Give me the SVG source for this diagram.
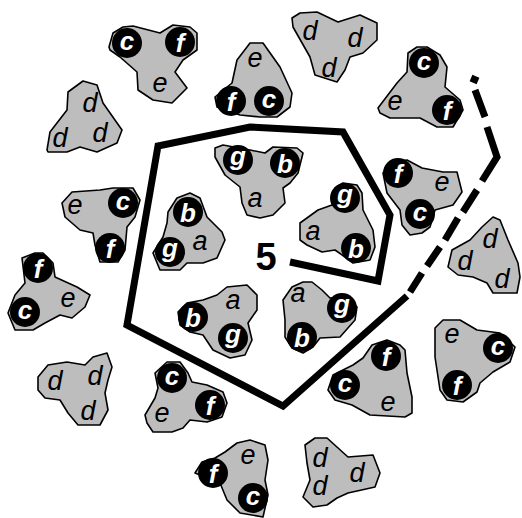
<svg xmlns="http://www.w3.org/2000/svg" width="522" height="518" viewBox="0 0 522 518">
<style>
.blob{fill:#bdbdbd;stroke:#000;stroke-width:1.6;stroke-linejoin:round}
.dot{fill:#000}
.w{fill:#fff;font-family:"Liberation Sans",Arial,sans-serif;font-style:italic;font-weight:bold;font-size:26px;text-anchor:middle}
.k{fill:#000;font-family:"Liberation Sans",Arial,sans-serif;font-style:italic;font-size:27px;text-anchor:middle}
.line{fill:none;stroke:#000;stroke-width:7;stroke-linejoin:miter}
.dash{fill:none;stroke:#000;stroke-width:7}
</style>
<g id="boundary">
<path class="line" d="M290,262 L378,281 L390,215 L343,132 L250,127 L158,146 L127,325 L283,406 L407,296"/>
<path class="dash" d="M410,292 L422,273 M427,266 L440,247 M445,240 L458,218 M463,212 L477,190 M482,181 L497,157 L487,127 M485,117 L475,90 M478,81 L471,78"/>
<text x="266" y="270" style="font-family:'Liberation Sans',Arial,sans-serif;font-size:38px;font-weight:bold;text-anchor:middle">5</text>
</g>
<g id="b1"><polygon class="blob" points="109,47 113,33 123,27 133,26 160,33 173,25 190,27 197,33 197,50 183,60 175,72 187,88 172,103 153,100 138,90 137,72 120,57 110,50"/>
<circle class="dot" cx="127" cy="43" r="15"/><circle class="dot" cx="180" cy="42" r="15"/>
<text class="w" x="127" y="50">c</text><text class="w" x="180" y="52">f</text><text class="k" x="160" y="92">e</text></g>
<g id="b2"><polygon class="blob" points="250,43 263,43 280,67 292,93 290,107 277,117 260,117 240,115 217,107 215,97 232,83 237,60 247,47"/>
<circle class="dot" cx="231" cy="101" r="15"/><circle class="dot" cx="269" cy="101" r="15"/>
<text class="w" x="231" y="111">f</text><text class="w" x="269" y="108">c</text><text class="k" x="255" y="67">e</text></g>
<g id="b3"><polygon class="blob" points="292,18 300,13 317,12 338,22 360,15 377,23 377,40 363,53 350,57 345,70 337,82 315,75 310,57 293,27"/>
<text class="k" x="310" y="40">d</text><text class="k" x="355" y="47">d</text><text class="k" x="329" y="77">d</text></g>
<g id="b4"><polygon class="blob" points="378,108 397,83 407,72 408,53 417,47 427,47 440,55 447,67 445,87 460,100 463,110 453,127 437,127 420,118 390,118 380,113"/>
<circle class="dot" cx="424" cy="63" r="15"/><circle class="dot" cx="447" cy="110" r="15"/>
<text class="w" x="424" y="70">c</text><text class="w" x="447" y="120">f</text><text class="k" x="395" y="110">e</text></g>
<g id="b5"><polygon class="blob" points="48,152 47,150 50,132 67,110 68,92 83,81 97,85 103,103 122,130 117,143 97,152 80,147 67,152"/>
<text class="k" x="90" y="112">d</text><text class="k" x="60" y="147">d</text><text class="k" x="100" y="142">d</text></g>
<g id="b6"><polygon class="blob" points="62,203 72,192 100,190 113,188 133,188 140,200 135,217 127,227 125,250 118,262 100,262 95,245 93,233 80,230 65,217"/>
<circle class="dot" cx="123" cy="203" r="15"/><circle class="dot" cx="110" cy="248" r="15"/>
<text class="w" x="123" y="210">c</text><text class="w" x="110" y="258">f</text><text class="k" x="75" y="214">e</text></g>
<g id="b7"><polygon class="blob" points="215,148 223,145 250,150 265,153 273,147 297,148 303,153 298,173 290,183 283,188 285,203 273,215 260,218 247,215 242,203 240,187 225,175 215,157"/>
<circle class="dot" cx="238" cy="160" r="15"/><circle class="dot" cx="285" cy="163" r="15"/>
<text class="w" x="238" y="165">g</text><text class="w" x="285" y="173">b</text><text class="k" x="255" y="207">a</text></g>
<g id="b8"><polygon class="blob" points="167,223 168,212 177,198 190,193 200,198 207,217 222,232 225,240 217,258 203,263 187,263 180,270 160,270 153,253 163,237"/>
<circle class="dot" cx="188" cy="212" r="15"/><circle class="dot" cx="170" cy="252" r="15"/>
<text class="w" x="188" y="222">b</text><text class="w" x="170" y="257">g</text><text class="k" x="200" y="250">a</text></g>
<g id="b9"><polygon class="blob" points="300,223 318,210 332,205 335,188 343,183 357,185 362,193 363,210 373,230 375,247 370,260 353,263 345,257 335,250 322,252 307,245 300,240"/>
<circle class="dot" cx="345" cy="198" r="15"/><circle class="dot" cx="356" cy="248" r="15"/>
<text class="w" x="345" y="203">g</text><text class="w" x="356" y="258">b</text><text class="k" x="313" y="240">a</text></g>
<g id="b10"><polygon class="blob" points="383,173 392,162 407,160 422,168 443,172 457,172 462,192 453,205 435,210 430,227 422,233 410,235 402,225 400,210 387,193"/>
<circle class="dot" cx="398" cy="173" r="15"/><circle class="dot" cx="420" cy="214" r="15"/>
<text class="w" x="398" y="183">f</text><text class="w" x="420" y="221">c</text><text class="k" x="442" y="191">e</text></g>
<g id="b11"><polygon class="blob" points="448,267 452,250 470,240 482,227 493,217 500,220 508,240 518,263 520,277 517,293 493,293 487,283 473,277 458,275"/>
<text class="k" x="490" y="248">d</text><text class="k" x="465" y="270">d</text><text class="k" x="502" y="288">d</text></g>
<g id="b12"><polygon class="blob" points="22,258 35,253 43,253 53,263 55,277 77,287 90,295 85,307 72,318 60,315 45,323 33,330 15,330 8,313 15,295 25,283"/>
<circle class="dot" cx="38" cy="268" r="15"/><circle class="dot" cx="25" cy="312" r="15"/>
<text class="w" x="38" y="278">f</text><text class="w" x="25" y="319">c</text><text class="k" x="68" y="307">e</text></g>
<g id="b13"><polygon class="blob" points="178,312 187,303 203,300 217,295 227,287 247,285 257,295 257,310 248,323 252,340 245,355 230,358 213,350 203,335 190,332 180,325"/>
<circle class="dot" cx="193" cy="317" r="15"/><circle class="dot" cx="233" cy="338" r="15"/>
<text class="w" x="193" y="327">b</text><text class="w" x="233" y="343">g</text><text class="k" x="233" y="309">a</text></g>
<g id="b14"><polygon class="blob" points="283,300 292,287 303,282 312,282 322,290 330,298 343,297 357,307 355,320 340,337 320,338 313,347 303,353 292,348 285,337 285,320"/>
<circle class="dot" cx="342" cy="308" r="15"/><circle class="dot" cx="302" cy="337" r="15"/>
<text class="w" x="342" y="313">g</text><text class="w" x="302" y="347">b</text><text class="k" x="298" y="302">a</text></g>
<g id="b15"><polygon class="blob" points="38,377 48,365 67,362 85,365 93,357 107,353 112,367 108,380 105,393 108,410 100,425 78,425 68,413 60,400 45,398 38,390"/>
<text class="k" x="55" y="390">d</text><text class="k" x="95" y="385">d</text><text class="k" x="88" y="420">d</text></g>
<g id="b16"><polygon class="blob" points="145,415 155,398 158,388 155,373 167,362 180,362 188,373 192,382 207,385 223,392 227,403 222,417 207,422 190,420 183,428 172,432 153,432 147,423"/>
<circle class="dot" cx="172" cy="378" r="15"/><circle class="dot" cx="210" cy="405" r="15"/>
<text class="w" x="172" y="385">c</text><text class="w" x="210" y="415">f</text><text class="k" x="162" y="422">e</text></g>
<g id="b17"><polygon class="blob" points="328,390 333,375 353,365 363,358 372,345 387,340 400,345 405,350 407,373 412,397 412,413 405,417 370,415 352,405 335,400"/>
<circle class="dot" cx="386" cy="356" r="15"/><circle class="dot" cx="345" cy="385" r="15"/>
<text class="w" x="386" y="366">f</text><text class="w" x="345" y="392">c</text><text class="k" x="388" y="411">e</text></g>
<g id="b18"><polygon class="blob" points="435,328 443,320 460,320 477,330 500,333 515,347 510,362 493,372 480,383 477,392 463,402 447,400 440,390 435,357"/>
<circle class="dot" cx="498" cy="348" r="15"/><circle class="dot" cx="457" cy="385" r="15"/>
<text class="w" x="498" y="355">c</text><text class="w" x="457" y="395">f</text><text class="k" x="452" y="343">e</text></g>
<g id="b19"><polygon class="blob" points="195,473 202,462 215,458 225,452 237,443 250,440 265,445 268,460 265,480 268,495 263,517 240,513 227,500 220,483"/>
<circle class="dot" cx="213" cy="473" r="15"/><circle class="dot" cx="253" cy="498" r="15"/>
<text class="w" x="213" y="483">f</text><text class="w" x="253" y="505">c</text><text class="k" x="248" y="464">e</text></g>
<g id="b20"><polygon class="blob" points="305,445 315,438 327,438 348,457 373,455 380,473 375,487 348,493 337,498 327,505 313,507 303,497 310,480 307,463"/>
<text class="k" x="320" y="467">d</text><text class="k" x="357" y="482">d</text><text class="k" x="320" y="495">d</text></g>
</svg>
